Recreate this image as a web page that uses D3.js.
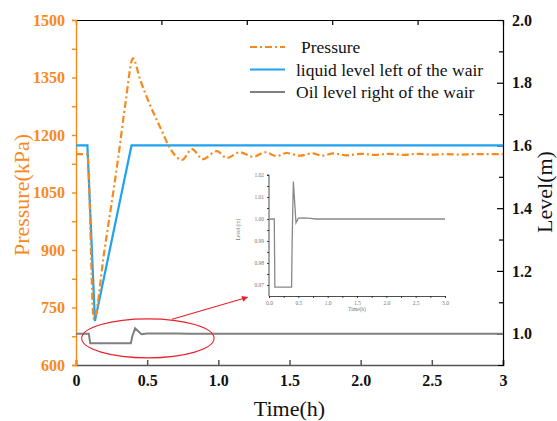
<!DOCTYPE html>
<html>
<head>
<meta charset="utf-8">
<script src="https://cdn.jsdelivr.net/npm/d3@7"></script>
<style>
  body { margin: 0; background: #fff; }
  svg text { font-family: "Liberation Serif", "Times New Roman", serif; }
</style>
</head>
<body>
<div id="chart"></div>
<script>
// data
const pressureTime = [0, 0.08, 0.125, 0.2, 0.3, 0.35, 0.4, 0.45, 0.506, 0.6, 0.66, 0.745, 0.815, 0.89,
  0.99, 1.06, 1.15, 1.245, 1.33, 1.41, 1.48, 1.57, 1.66, 1.73, 1.81, 1.9, 2.0, 2.1, 2.2, 2.3,
  2.4, 2.5, 2.6, 2.7, 2.8, 2.9, 3.0];
const pressureValues = [1150, 1150, 720, 900, 1150, 1290, 1400, 1345, 1291, 1213, 1166, 1135, 1163, 1137,
  1158, 1140, 1155, 1143, 1155, 1145, 1153, 1146, 1152, 1146, 1152, 1147, 1151, 1148, 1151, 1148,
  1151, 1149, 1150, 1149, 1150, 1150, 1150];

const leftLevelTime = [0, 0.08, 0.133, 0.39, 3.0];
const leftLevelValues = [1.6, 1.6, 1.04, 1.6, 1.6];

const oilLevelTime = [0, 0.09, 0.1, 0.385, 0.395, 0.415, 0.46, 0.5, 0.6, 0.7, 0.8, 1.0, 3.0];
const oilLevelValues = [1.0, 1.0, 0.969, 0.969, 0.99, 1.017, 0.9983, 1.0004, 1.0005, 1.0003, 1.0, 1.0, 1.0];

const xTickLabels = ['0', '0.5', '1.0', '1.5', '2.0', '2.5', '3'];
const pressureTicks = [600, 750, 900, 1050, 1200, 1350, 1500];
const levelTicks = [1.0, 1.2, 1.4, 1.6, 1.8, 2.0];
const insetYTicks = [0.97, 0.98, 0.99, 1.00, 1.01, 1.02];
const insetXTicks = [0, 0.5, 1.0, 1.5, 2.0, 2.5, 3.0];

const legendNames = ['Pressure', 'liquid level left of the wair', 'Oil level right of the wair'];

const option = {
  width: 557,
  height: 421,
  margin: {top: 20, right: 54, bottom: 56, left: 76},
  orange: '#f7891c',
  blue: '#1fa3f0',
  gray: '#7f7f7f',
  red: '#e8212b'
};

const svg = d3.select('#chart').append('svg')
    .attr('width', option.width)
    .attr('height', option.height);

const m = option.margin;
const innerW = option.width - m.left - m.right;
const innerH = option.height - m.top - m.bottom;

const g = svg.append('g').attr('transform', `translate(${m.left},${m.top})`);

// scales
const x = d3.scaleLinear().domain([0, 3]).range([0, innerW]);
const yP = d3.scaleLinear().domain([600, 1500]).range([innerH, 0]);
const yL = d3.scaleLinear().domain([0.9, 2.0]).range([innerH, 0]);

// top frame
g.append('g')
    .call(d3.axisTop(x).tickValues([0.6, 1.2, 1.8, 2.4]).tickSize(-5).tickFormat(''))
    .call((s) => s.selectAll('line,path').attr('stroke', '#000').attr('stroke-width', 1.2));

// bottom axis
const bx = g.append('g')
    .attr('transform', `translate(0,${innerH})`)
    .call(d3.axisBottom(x).tickValues([0, 0.5, 1, 1.5, 2, 2.5, 3])
        .tickSize(-5).tickPadding(10).tickFormat((d, i) => xTickLabels[i]));
bx.selectAll('line,path').attr('stroke', '#555').attr('stroke-width', 1.5);
bx.selectAll('text').attr('font-size', 16).attr('font-weight', 'bold')
    .attr('fill', '#111').attr('font-family', 'Liberation Serif');

// left axis (pressure)
const ly = g.append('g')
    .call(d3.axisLeft(yP).tickValues(d3.range(600, 1501, 75)).tickSize(4).tickPadding(7)
        .tickFormat((d) => pressureTicks.includes(d) ? d : ''));
ly.selectAll('line,path').attr('stroke', option.orange).attr('stroke-width', 1.4);
ly.selectAll('text').attr('font-size', 16).attr('font-weight', 'bold')
    .attr('fill', option.orange).attr('font-family', 'Liberation Serif');

// right axis (level)
const ry = g.append('g')
    .attr('transform', `translate(${innerW},0)`)
    .call(d3.axisRight(yL).tickValues(d3.range(10, 21).map((d) => d / 10))
        .tickSize(-5).tickPadding(9)
        .tickFormat((d) => levelTicks.some((v) => Math.abs(v - d) < 1e-6) ? d3.format('.1f')(d) : ''));
ry.selectAll('line,path').attr('stroke', '#000').attr('stroke-width', 1.2);
ry.selectAll('.tick line').attr('x2', (d) => levelTicks.some((v) => Math.abs(v - d) < 1e-6) ? -6 : -4);
ry.selectAll('text').attr('font-size', 16).attr('font-weight', 'bold')
    .attr('fill', '#111').attr('font-family', 'Liberation Serif');

// axis titles
svg.append('text')
    .attr('transform', `translate(29,195) rotate(-90)`)
    .attr('text-anchor', 'middle')
    .attr('font-size', 22)
    .attr('fill', option.orange)
    .text('Pressure(kPa)');

svg.append('text')
    .attr('transform', `translate(552,192) rotate(-90)`)
    .attr('text-anchor', 'middle')
    .attr('font-size', 22)
    .attr('fill', '#111')
    .text('Level(m)');

svg.append('text')
    .attr('x', m.left + x(1.5))
    .attr('y', 416)
    .attr('text-anchor', 'middle')
    .attr('font-size', 22)
    .attr('fill', '#111')
    .text('Time(h)');

// series
const pressureLine = d3.line().curve(d3.curveMonotoneX)
    .x((d, i) => x(pressureTime[i])).y((d) => yP(d));
const leftLine = d3.line().x((d, i) => x(leftLevelTime[i])).y((d) => yL(d));
const oilLine = d3.line().x((d, i) => x(oilLevelTime[i])).y((d) => yL(d));

g.append('path')
    .attr('d', oilLine(oilLevelValues))
    .attr('fill', 'none')
    .attr('stroke', option.gray)
    .attr('stroke-width', 2);

g.append('path')
    .attr('d', leftLine(leftLevelValues))
    .attr('fill', 'none')
    .attr('stroke', option.blue)
    .attr('stroke-width', 2.2);

g.append('path')
    .attr('d', pressureLine(pressureValues))
    .attr('fill', 'none')
    .attr('stroke', option.orange)
    .attr('stroke-width', 2.2)
    .attr('stroke-dasharray', '7,3,2,3');

// legend
const legend = svg.append('g').attr('transform', 'translate(250,47)');
const legendStyles = [
  {stroke: option.orange, dash: '7,3,2,3'},
  {stroke: option.blue, dash: null},
  {stroke: option.gray, dash: null}
];
legendNames.forEach((name, i) => {
  const row = legend.append('g').attr('transform', `translate(0,${i * 22.5})`);
  row.append('line')
      .attr('x1', 0).attr('x2', 35)
      .attr('stroke', legendStyles[i].stroke)
      .attr('stroke-width', 2)
      .attr('stroke-dasharray', legendStyles[i].dash);
  row.append('text')
      .attr('x', i === 0 ? 51 : 46)
      .attr('y', 6)
      .attr('font-size', 17.5)
      .attr('fill', '#111')
      .text(name);
});

// red ellipse and arrow
svg.append('defs').append('marker')
    .attr('id', 'arrow')
    .attr('viewBox', '0 0 10 10')
    .attr('refX', 9).attr('refY', 5)
    .attr('markerWidth', 9).attr('markerHeight', 6)
    .attr('orient', 'auto')
    .attr('markerUnits', 'userSpaceOnUse')
    .append('path')
    .attr('d', 'M0,0L10,5L0,10Z')
    .attr('fill', option.red);

g.append('ellipse')
    .attr('cx', x(0.505))
    .attr('cy', yL(0.985))
    .attr('rx', x(0.465))
    .attr('ry', 19.5)
    .attr('fill', 'none')
    .attr('stroke', option.red)
    .attr('stroke-width', 1.1);

g.append('line')
    .attr('x1', x(0.675)).attr('y1', yL(1.046))
    .attr('x2', x(1.205)).attr('y2', yL(1.116))
    .attr('stroke', option.red)
    .attr('stroke-width', 1.2)
    .attr('marker-end', 'url(#arrow)');

// inset
const inset = {left: 269, top: 175, width: 176, height: 121};
const ig = svg.append('g').attr('transform', `translate(${inset.left},${inset.top})`);
const ix = d3.scaleLinear().domain([0, 3]).range([0, inset.width]);
const iy = d3.scaleLinear().domain([0.965, 1.02]).range([inset.height, 0]);

const iyAxis = ig.append('g')
    .call(d3.axisLeft(iy).tickValues(d3.range(0, 11).map((d) => 0.97 + d * 0.005))
        .tickSize(2).tickPadding(3)
        .tickFormat((d) => insetYTicks.some((v) => Math.abs(v - d) < 1e-6) ? d3.format('.2f')(d) : ''));
iyAxis.select('.domain').attr('d', `M-2,${iy(1.02)}H0V${inset.height}`);
iyAxis.selectAll('line,path').attr('stroke', '#222').attr('stroke-width', 0.8);
iyAxis.selectAll('text').attr('font-size', 5.5).attr('fill', '#777');

const ixAxis = ig.append('g')
    .attr('transform', `translate(0,${inset.height})`)
    .call(d3.axisBottom(ix).tickValues(d3.range(0, 13).map((d) => d * 0.25))
        .tickSize(2).tickPadding(3)
        .tickFormat((d) => insetXTicks.includes(d) ? d3.format('.1f')(d) : ''));
ixAxis.selectAll('line,path').attr('stroke', '#222').attr('stroke-width', 0.8);
ixAxis.selectAll('text').attr('font-size', 5.5).attr('fill', '#777');

ig.append('text')
    .attr('transform', `translate(-29,${inset.height / 2 - 6}) rotate(-90)`)
    .attr('text-anchor', 'middle')
    .attr('font-size', 5.5)
    .attr('fill', '#777')
    .text('Level (m)');

ig.append('text')
    .attr('x', ix(1.5))
    .attr('y', inset.height + 15)
    .attr('text-anchor', 'middle')
    .attr('font-size', 5.5)
    .attr('fill', '#777')
    .text('Time(h)');

const insetLine = d3.line().x((d, i) => ix(oilLevelTime[i])).y((d) => iy(d));
ig.append('path')
    .attr('d', insetLine(oilLevelValues))
    .attr('fill', 'none')
    .attr('stroke', '#888')
    .attr('stroke-width', 1.3);
</script>
</body>
</html>
